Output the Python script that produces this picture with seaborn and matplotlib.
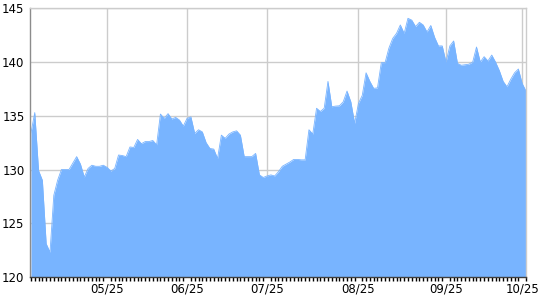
import numpy as np
import pandas as pd
import matplotlib
matplotlib.use("Agg")
import matplotlib.pyplot as plt
import seaborn as sns

prices = [
    133.4, 135.3, 129.9, 129.0, 123.1, 122.3, 127.6, 129.0, 130.0, 130.0,
    130.0, 130.6, 131.2, 130.5, 129.3, 130.1, 130.4, 130.3, 130.3, 130.4,
    130.2, 129.85, 130.1, 131.35, 131.3, 131.2, 132.1, 132.05, 132.8, 132.4,
    132.6, 132.6, 132.7, 132.3, 135.16, 134.76, 135.2, 134.7, 134.85, 134.6,
    134.04, 134.76, 134.9, 133.36, 133.7, 133.5, 132.5, 131.96, 131.9, 131.03,
    133.2, 132.9, 133.3, 133.5, 133.6, 133.2, 131.2, 131.2, 131.2, 131.5,
    129.5, 129.26, 129.4, 129.5, 129.4, 129.8, 130.3, 130.5, 130.7, 130.94,
    130.94, 130.9, 130.9, 133.7, 133.3, 135.7, 135.4, 135.7, 138.2, 135.84,
    135.9, 135.93, 136.3, 137.3, 136.3, 134.3, 136.15, 136.9, 139.0, 138.2,
    137.55, 137.6, 139.94, 139.95, 141.3, 142.2, 142.67, 143.45, 142.67, 144.07,
    143.9, 143.3, 143.7, 143.45, 142.8, 143.4, 142.3, 141.5, 141.5, 140.0,
    141.5, 141.96, 139.88, 139.7, 139.75, 139.8, 140.0, 141.4, 140.0, 140.5,
    140.1, 140.65, 140.0, 139.2, 138.2, 137.7, 138.4, 139.0, 139.35, 138.0,
    137.3,
]
month_ticks = [20, 41, 62, 86, 109, 129]
month_labels = ["05/25", "06/25", "07/25", "08/25", "09/25", "10/25"]
y_ticks = [120, 125, 130, 135, 140, 145]

df = pd.DataFrame({"idx": np.arange(len(prices)), "price": prices})

sns.set_theme(style="white")
plt.rcParams["font.family"] = ["DejaVu Sans"]

fig = plt.figure(figsize=(5.4, 3.0), dpi=100)
ax = fig.add_axes([30 / 540, 1 - 277 / 300, 496 / 540, (277 - 8.3) / 300])
ax.grid(False)

fill_color = "#78b4ff"
for v in y_ticks[1:]:
    ax.axhline(v, color="#cccccc", lw=1, zorder=0.5)
for t in month_ticks:
    ax.axvline(t, color="#cccccc", lw=1, zorder=0.5)

ax.fill_between(df["idx"], df["price"], y_ticks[0], color=fill_color, lw=0, zorder=5)
sns.lineplot(data=df, x="idx", y="price", color=fill_color, lw=0.6, ax=ax, zorder=5)

ax.set_xlim(-0.25, len(prices) - 1)
ax.set_ylim(y_ticks[0], y_ticks[-1])
ax.set_yticks(y_ticks)
ax.set_yticklabels([str(v) for v in y_ticks])
ax.set_xticks(month_ticks)
ax.set_xticklabels(month_labels)
ax.set_xticks(df["idx"], minor=True)

ax.set_xlabel("")
ax.set_ylabel("")
ax.tick_params(axis="y", length=0, labelsize=8.5, colors="#000000", pad=4)
ax.tick_params(axis="x", which="major", length=3, width=1, colors="#000000",
               labelsize=8.5, pad=1, direction="out")
ax.tick_params(axis="x", which="minor", length=3, width=1, color="#000000",
               direction="out", bottom=True)

for side in ["top", "right"]:
    ax.spines[side].set_color("#cccccc")
    ax.spines[side].set_linewidth(1)
ax.spines["left"].set_color("#8c8c8c")
ax.spines["left"].set_linewidth(1)
ax.spines["bottom"].set_color("#404040")
ax.spines["bottom"].set_linewidth(1)
for s in ax.spines.values():
    s.set_zorder(6)

fig.savefig("out.png", dpi=100)
